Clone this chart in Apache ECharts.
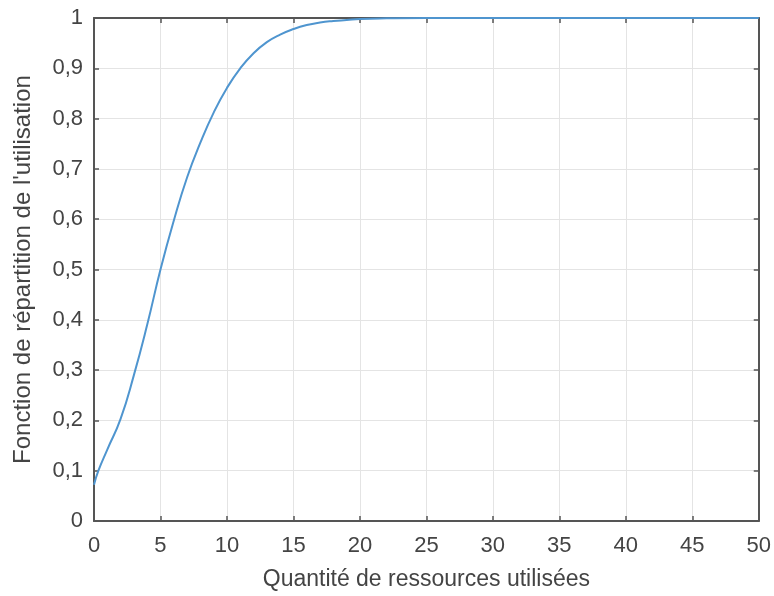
<!DOCTYPE html>
<html><head><meta charset="utf-8">
<script src="https://cdn.jsdelivr.net/npm/echarts@6/dist/echarts.min.js"></script>
<style>html,body{margin:0;padding:0;background:#fff}#c{width:774px;height:596px}</style>
</head><body><div id="c"></div>
<script>
const xValues = [0, 0.33, 1, 2, 3, 4, 5, 6, 7, 8, 9, 10, 11, 12, 13, 14, 15, 16, 17, 18, 19, 20, 22, 25, 30, 35, 40, 45, 50];
const cdfValues = [0.072, 0.10, 0.142, 0.203, 0.29, 0.39, 0.50, 0.597, 0.683, 0.752, 0.812, 0.861, 0.9, 0.93, 0.952, 0.967, 0.978, 0.986, 0.991, 0.994, 0.996, 0.998, 0.9993, 1, 1, 1, 1, 1, 1];
const xTicks = [0, 5, 10, 15, 20, 25, 30, 35, 40, 45, 50];
const yTicks = [0, 0.1, 0.2, 0.3, 0.4, 0.5, 0.6, 0.7, 0.8, 0.9, 1];
const xTitle = 'Quantité de ressources utilisées';
const yTitle = "Fonction de répartition de l'utilisation";

const font = 'Liberation Sans, Arial, sans-serif';
const axisLineStyle = {color: '#555', width: 2};
const tickStyle = {show: true, inside: true, length: 5, lineStyle: {color: '#555', width: 1.5}};
const chart = echarts.init(document.getElementById('c'));
const fmt = v => String(Math.round(v * 10) / 10).replace('.', ',');
chart.setOption({
  animation: false,
  grid: {left: 94, right: 14, top: 18, bottom: 74, containLabel: false},
  xAxis: [{
    type: 'value', min: xTicks[0], max: xTicks[xTicks.length - 1], interval: 5,
    name: xTitle, nameLocation: 'middle', nameGap: 47,
    nameTextStyle: {fontFamily: font, fontSize: 23, color: '#444'},
    axisLine: {show: true, onZero: false, lineStyle: axisLineStyle},
    axisTick: tickStyle,
    axisLabel: {fontFamily: font, fontSize: 22, color: '#444', margin: 14},
    splitLine: {show: true, lineStyle: {color: '#e4e4e4', width: 1}}
  }, {
    type: 'value', position: 'top', min: xTicks[0], max: xTicks[xTicks.length - 1], interval: 5,
    axisLine: {show: true, onZero: false, lineStyle: axisLineStyle},
    axisTick: tickStyle,
    axisLabel: {show: false}, splitLine: {show: false}
  }],
  yAxis: [{
    type: 'value', min: yTicks[0], max: yTicks[yTicks.length - 1], interval: 0.1,
    name: yTitle, nameLocation: 'middle', nameGap: 59,
    nameTextStyle: {fontFamily: font, fontSize: 24, color: '#444'},
    axisLine: {show: true, onZero: false, lineStyle: axisLineStyle},
    axisTick: tickStyle,
    axisLabel: {fontFamily: font, fontSize: 22, color: '#444', margin: 11, formatter: fmt},
    splitLine: {show: true, lineStyle: {color: '#e4e4e4', width: 1}}
  }, {
    type: 'value', position: 'right', min: yTicks[0], max: yTicks[yTicks.length - 1], interval: 0.1,
    axisLine: {show: true, onZero: false, lineStyle: axisLineStyle},
    axisTick: tickStyle,
    axisLabel: {show: false}, splitLine: {show: false}
  }],
  series: [{
    type: 'line', smooth: 0.5, symbol: 'none',
    lineStyle: {color: '#4f95cf', width: 2},
    data: xValues.map((x, i) => [x, cdfValues[i]])
  }]
});
</script></body></html>
